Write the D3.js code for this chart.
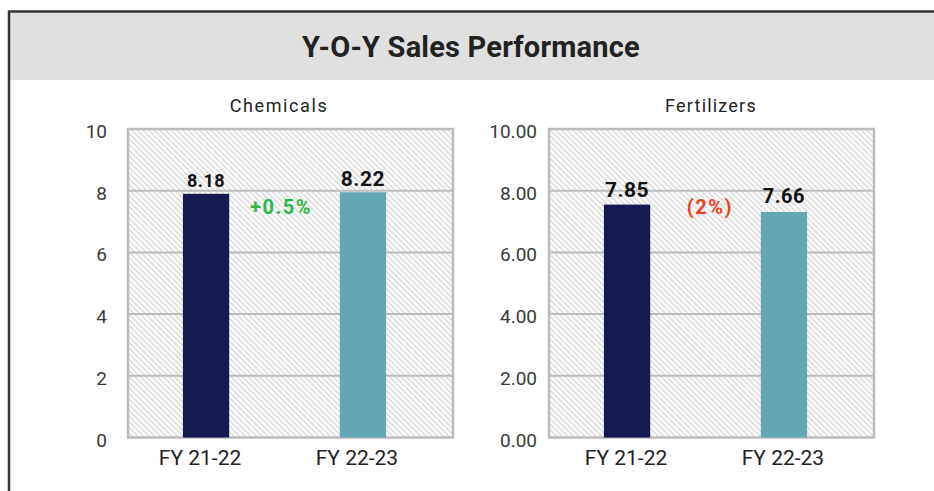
<!DOCTYPE html>
<html>
<head>
<meta charset="utf-8">
<script src="https://cdn.jsdelivr.net/npm/d3@7"></script>
<style>
  body { margin: 0; background: #fff; }
  svg { display: block; font-family: Roboto, "DejaVu Sans", sans-serif; }
</style>
</head>
<body>
<script>
// data
const categories = ["FY 21-22", "FY 22-23"];
const chemicalsBars = [7.9, 7.95];      // bar heights as drawn
const chemicalsLabels = ["8.18", "8.22"];
const fertilizersBars = [7.55, 7.31];
const fertilizersLabels = ["7.85", "7.66"];
const yTicks = [0, 2, 4, 6, 8, 10];
const colors = ["#151a50", "#63a7b2"];

const W = 934, H = 491;
const svg = d3.select("body").append("svg")
  .attr("width", W).attr("height", H);

// hatch fill for the plot areas
const defs = svg.append("defs");
defs.append("pattern")
  .attr("id", "hatch")
  .attr("patternUnits", "userSpaceOnUse")
  .attr("width", 4).attr("height", 4)
  .attr("patternTransform", "rotate(-45)")
  .call(p => {
    p.append("rect").attr("width", 4).attr("height", 4).attr("fill", "#fff");
    p.append("line").attr("x1", 1).attr("y1", 0).attr("x2", 1).attr("y2", 4)
      .attr("stroke", "#d2d2d2").attr("stroke-width", 1.3);
  });

// frame + title band
svg.append("rect").attr("x", 8).attr("y", 11).attr("width", W - 8).attr("height", 69)
  .attr("fill", "#e0e0e0");
svg.append("path").attr("d", `M9,${H}V11.5H${W}`)
  .attr("fill", "none").attr("stroke", "#333").attr("stroke-width", 2.5);
svg.append("text").attr("x", 471).attr("y", 57)
  .attr("text-anchor", "middle").attr("font-size", 29).attr("font-weight", 700)
  .attr("letter-spacing", 0.2).attr("fill", "#222").text("Y-O-Y Sales Performance");

function drawPanel(opt) {
  const top = 129, bottom = 437.5;
  const x = d3.scaleBand().domain(categories)
    .range([opt.left, opt.right - 12]).paddingInner(0.705).paddingOuter(0.35);
  const y = d3.scaleLinear().domain([0, 10]).range([bottom, top]);
  const g = svg.append("g");

  g.append("rect").attr("x", opt.left).attr("y", top)
    .attr("width", opt.right - opt.left).attr("height", bottom - top)
    .attr("fill", "url(#hatch)");

  // gridlines
  g.selectAll(".grid").data(yTicks.slice(1, -1)).join("line")
    .attr("x1", opt.left).attr("x2", opt.right)
    .attr("y1", d => y(d)).attr("y2", d => y(d))
    .attr("stroke", "#bcbcbc").attr("stroke-width", 2);

  g.append("rect").attr("x", opt.left).attr("y", top)
    .attr("width", opt.right - opt.left).attr("height", bottom - top)
    .attr("fill", "none").attr("stroke", "#bcbcbc").attr("stroke-width", 2.5);

  // bars
  g.selectAll(".bar").data(opt.bars).join("rect")
    .attr("x", (d, i) => x(categories[i]))
    .attr("width", x.bandwidth())
    .attr("y", d => y(d))
    .attr("height", d => y(0) - y(d))
    .attr("fill", (d, i) => colors[i]);

  // value labels
  g.selectAll(".val").data(opt.labels).join("text")
    .attr("x", (d, i) => x(categories[i]) + x.bandwidth() / 2)
    .attr("y", d => y(+d) + 2)
    .attr("text-anchor", "middle").attr("font-weight", 700)
    .attr("font-size", (d, i) => opt.labelSizes[i])
    .attr("letter-spacing", 0.5)
    .attr("fill", "#111").text(d => d);

  // y axis
  const yAxis = g.append("g").attr("transform", `translate(${opt.left},0)`)
    .call(d3.axisLeft(y).tickValues(yTicks).tickSize(0)
      .tickPadding(opt.tickPad).tickFormat(d3.format(opt.fmt)));
  yAxis.select(".domain").remove();
  yAxis.selectAll("text").attr("font-family", "Roboto, sans-serif")
    .attr("font-size", 19).attr("fill", "#3a3a3a").attr("dy", "0.45em");

  // x axis
  const xAxis = g.append("g").attr("transform", `translate(0,${bottom})`)
    .call(d3.axisBottom(x).tickSize(0).tickPadding(13));
  xAxis.select(".domain").remove();
  xAxis.selectAll("text").attr("font-family", "Roboto, sans-serif")
    .attr("font-size", 21).attr("fill", "#222").attr("dx", opt.xLabelDx);

  // panel title
  g.append("text").attr("x", opt.titleX).attr("y", 112)
    .attr("text-anchor", "middle").attr("font-size", 18)
    .attr("letter-spacing", opt.titleSpacing).attr("fill", "#222").text(opt.title);

  // change label
  g.append("text").attr("x", opt.changeX).attr("y", 214)
    .attr("text-anchor", "middle").attr("font-size", 20).attr("font-weight", 700)
    .attr("letter-spacing", 1.5)
    .attr("fill", opt.changeColor).text(opt.change);
}

drawPanel({
  left: 128, right: 453, bars: chemicalsBars, labels: chemicalsLabels,
  labelSizes: [18, 21], fmt: "d", tickPad: 21, xLabelDx: -6,
  title: "Chemicals", titleX: 279, titleSpacing: 1.6,
  change: "+0.5%", changeX: 281, changeColor: "#2bb84b"
});
drawPanel({
  left: 549, right: 874, bars: fertilizersBars, labels: fertilizersLabels,
  labelSizes: [21, 20], fmt: ".2f", tickPad: 12, xLabelDx: -1,
  title: "Fertilizers", titleX: 711, titleSpacing: 1.2,
  change: "(2%)", changeX: 710, changeColor: "#e8431f"
});
</script>
</body>
</html>
